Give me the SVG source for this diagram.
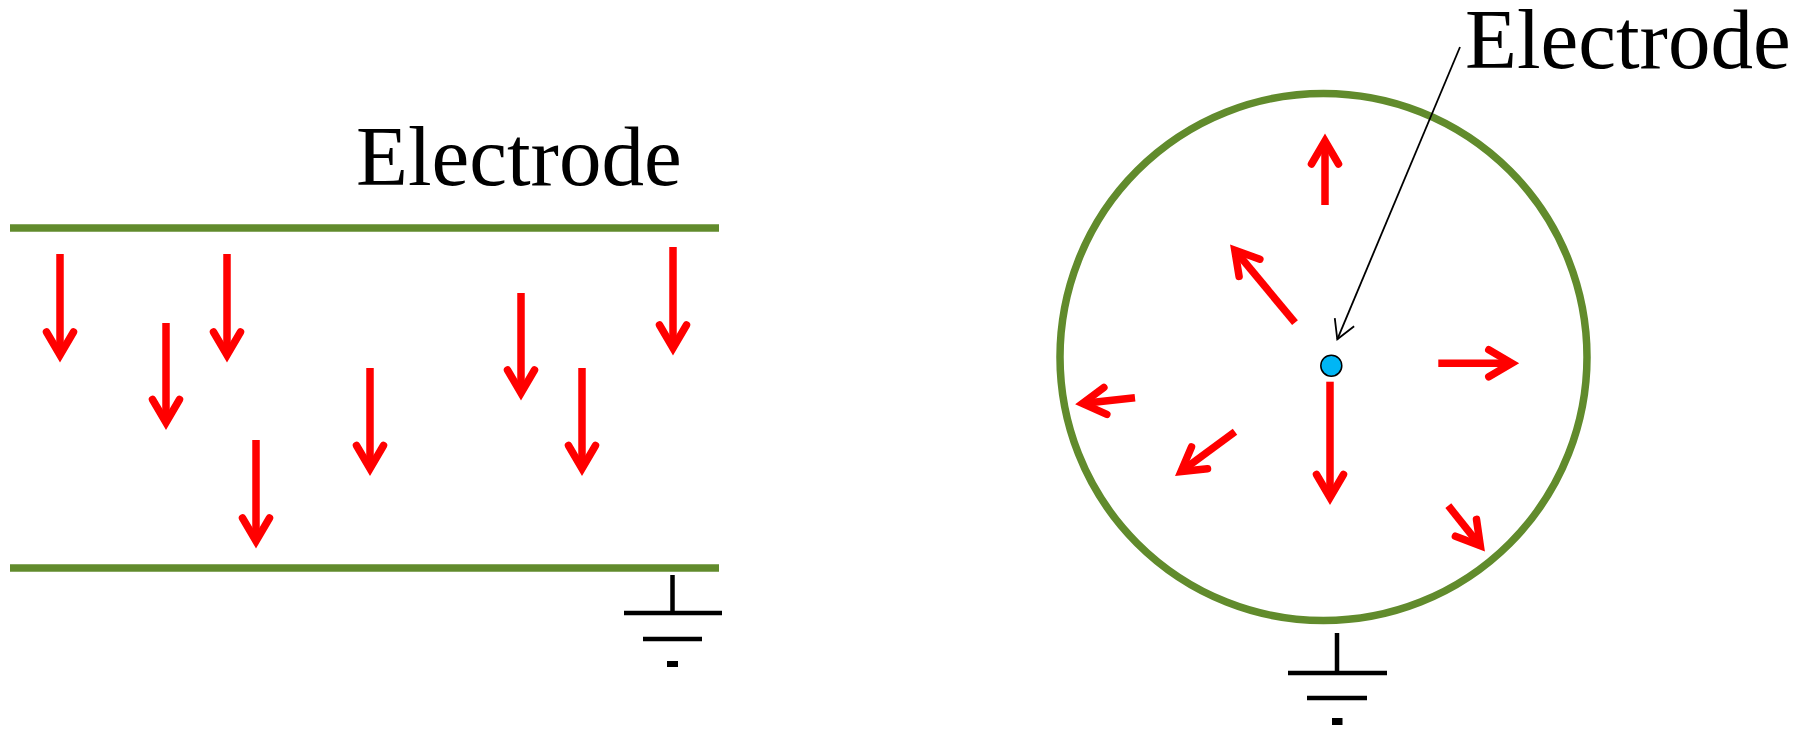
<svg xmlns="http://www.w3.org/2000/svg" width="1813" height="729" viewBox="0 0 1813 729">
  <style>
    .electrode { stroke: #618B2C; stroke-width: 7.5; fill: none; }
    .field { stroke: #FF0000; stroke-width: 7.5; fill: none; stroke-linecap: butt; marker-end: url(#redHead); }
    .gnd { stroke: #000000; stroke-width: 4.5; fill: none; }
    .label { font-family: "Liberation Serif", "Times New Roman", serif; font-size: 85px; fill: #000000; }
    .leader { stroke: #000000; stroke-width: 1.8; fill: none; marker-end: url(#blackHead); }
  </style>
  <defs>
    <marker id="redHead" markerUnits="userSpaceOnUse" markerWidth="60" markerHeight="60" viewBox="-40 -30 60 60" refX="0" refY="0" orient="auto" overflow="visible">
      <path d="M-23,-13.5 L0,0 L-23,13.5" fill="none" stroke="#FF0000" stroke-width="7.5" stroke-linecap="round" stroke-linejoin="miter"/>
    </marker>
    <marker id="blackHead" markerUnits="userSpaceOnUse" markerWidth="40" markerHeight="40" viewBox="-30 -20 40 40" refX="0" refY="0" orient="auto" overflow="visible">
      <path d="M-18.5,-10.5 L0,0 L-18.5,10.5" fill="none" stroke="#000000" stroke-width="1.8" stroke-linejoin="miter"/>
    </marker>
  </defs>
  <rect x="0" y="0" width="1813" height="729" fill="#FFFFFF"/>

  <!-- Left panel: parallel plate electrodes -->
  <g id="left-label">
    <text class="label" x="356" y="185">Electrode</text>
  </g>
  <g id="left-top-electrode">
    <line class="electrode" x1="10" y1="228" x2="719" y2="228"/>
  </g>
  <g id="left-bottom-electrode">
    <line class="electrode" x1="10" y1="568" x2="719" y2="568"/>
  </g>
  <g id="left-field-arrows">
    <line class="field" x1="60" y1="254" x2="60" y2="355"/>
    <line class="field" x1="166" y1="323" x2="166" y2="422.5"/>
    <line class="field" x1="227" y1="254" x2="227" y2="355"/>
    <line class="field" x1="256" y1="440" x2="256" y2="541"/>
    <line class="field" x1="370" y1="368" x2="370" y2="468.5"/>
    <line class="field" x1="521" y1="293" x2="521" y2="393"/>
    <line class="field" x1="582" y1="368" x2="582" y2="468.5"/>
    <line class="field" x1="673" y1="247" x2="673" y2="348"/>
  </g>
  <g id="left-ground">
    <line class="gnd" x1="672.5" y1="575" x2="672.5" y2="613"/>
    <line class="gnd" x1="624" y1="613" x2="722" y2="613"/>
    <line class="gnd" x1="643" y1="639" x2="702" y2="639"/>
    <rect x="667" y="661" width="11" height="6" fill="#000000"/>
  </g>

  <!-- Right panel: coaxial electrode -->
  <g id="right-outer-electrode">
    <circle class="electrode" cx="1323.5" cy="357" r="263.5"/>
  </g>
  <g id="right-center-electrode">
    <circle cx="1331.3" cy="365.7" r="10.5" fill="#00B6F5" stroke="#000000" stroke-width="1.5"/>
  </g>
  <g id="right-label">
    <text class="label" x="1465" y="68">Electrode</text>
  </g>
  <g id="right-field-arrows">
    <line class="field" x1="1325" y1="205" x2="1325" y2="141"/>
    <line class="field" x1="1295" y1="322.7" x2="1234.8" y2="250.1"/>
    <line class="field" x1="1135" y1="397.7" x2="1082.5" y2="403.5"/>
    <line class="field" x1="1235" y1="431.7" x2="1181" y2="471.5"/>
    <line class="field" x1="1330" y1="381.7" x2="1330" y2="497.5"/>
    <line class="field" x1="1438.3" y1="363.3" x2="1511.8" y2="363.3"/>
    <line class="field" x1="1448.3" y1="505.7" x2="1480.3" y2="545.8"/>
  </g>
  <g id="right-ground">
    <line class="gnd" x1="1337" y1="633" x2="1337" y2="673"/>
    <line class="gnd" x1="1288" y1="673" x2="1387" y2="673"/>
    <line class="gnd" x1="1307" y1="698" x2="1367" y2="698"/>
    <rect x="1332" y="718" width="10.5" height="7" fill="#000000"/>
  </g>

  <g id="connectors">
    <line class="leader" x1="1460" y1="47" x2="1337.3" y2="339.3"/>
  </g>
</svg>
